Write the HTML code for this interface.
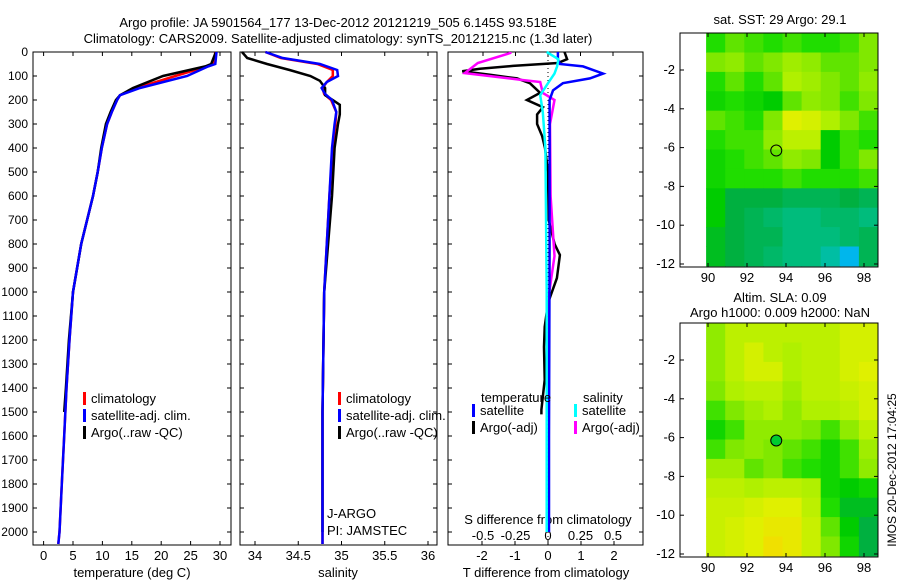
<!DOCTYPE html>
<html><head><meta charset="utf-8"><style>
html,body{margin:0;padding:0;background:#fff;}
svg{display:block;font-family:"Liberation Sans",sans-serif;font-size:13px;}
.sm{font-size:12px;}
</style></head><body>
<svg id="c" width="900" height="580" viewBox="0 0 900 580"></svg>
<script>
// ---------- DATA ----------
const tempDepth = [0,50,60,100,150,180,200,250,300,400,500,600,800,1000,1200,1400,1600,1800,2000,2050];
const tempClim  = [29.2,29.0,27.8,22.4,15.8,13.0,12.5,11.6,10.8,9.9,9.2,8.4,6.4,5.0,4.4,3.9,3.5,3.1,2.7,2.5];
const tempSat   = [29.4,29.2,28.0,24.4,16.4,13.0,12.5,11.6,10.8,9.9,9.2,8.4,6.4,5.0,4.4,3.9,3.5,3.1,2.7,2.5];
const argoTDepth= [0,50,60,100,150,180,200,250,300,400,500,600,800,1000,1200,1400,1500];
const argoT     = [29.3,28.5,27.5,20.3,15.2,13.0,12.3,11.4,10.6,9.8,9.2,8.4,6.4,5.0,4.3,3.8,3.5];

const salDepth  = [0,25,50,75,100,125,150,175,200,250,300,400,600,1000,1500,2000,2050];
const salClim   = [34.12,34.30,34.72,34.90,34.90,34.83,34.78,34.80,34.88,34.94,34.93,34.90,34.86,34.80,34.78,34.78,34.78];
const salSat    = [34.12,34.32,34.75,34.95,34.96,34.83,34.77,34.81,34.89,34.94,34.92,34.89,34.86,34.80,34.78,34.78,34.78];
const argoSDepth= [0,25,50,75,100,120,150,180,200,220,260,300,400,600,1000,1500,2000];
const argoS     = [33.85,33.91,34.14,34.40,34.64,34.75,34.81,34.81,34.90,34.98,34.98,34.96,34.92,34.89,34.80,34.78,34.78];

const dTSatDepth= [0,30,50,60,90,110,130,160,200,400,800,1200,1600,2000];
const dTSat     = [0.3,0.3,0.36,1.06,1.67,1.27,0.45,0.15,0.05,0.05,0.05,0.04,0.03,0.03];
const dTArgoDepth=[0,30,46,58,70,80,95,110,130,170,200,230,260,300,350,400,500,700,800,846,942,1046,1145,1229,1366,1491,1510];
const dTArgo    = [0.5,0.58,0.3,-1.06,-2.06,-2.6,-1.76,-0.94,-0.55,-0.24,-0.64,-0.15,-0.33,-0.33,-0.18,-0.09,0,0.02,0.2,0.36,0.27,0,-0.1,-0.12,-0.1,-0.2,-0.2];
const dSSatDepth= [0,30,60,90,130,180,250,400,1000,2000];
const dSSat     = [-0.01,0.08,0.07,0.05,0,-0.06,-0.04,-0.02,-0.01,-0.01];
const dSArgoDepth=[0,4,46,88,117,125,171,200,300,600,850,1000,1500,1510];
const dSArgo    = [-0.29,-0.29,-0.54,-0.64,-0.19,-0.06,-0.04,0.05,0.015,0.02,0.05,0.01,0.0,0.0];

const depthTicks=[0,100,200,300,400,500,600,700,800,900,1000,1100,1200,1300,1400,1500,1600,1700,1800,1900,2000];
const tTicks=[0,5,10,15,20,25,30];
const sTicks=[34,34.5,35,35.5,36];
const tdTicks=[-2,-1,0,1,2];
const sdTicks=[-0.5,-0.25,0,0.25,0.5];
const sdTickLabels=["-0.5","-0.25","0","0.25","0.5"];
const lonTicks=[90,92,94,96,98];
const latTicks=[-2,-4,-6,-8,-10,-12];

const sstGrid=[
[0.52,0.54,0.53,0.52,0.53,0.52,0.52,0.53,0.55],
[0.55,0.56,0.54,0.55,0.57,0.56,0.54,0.54,0.55],
[0.52,0.54,0.52,0.54,0.58,0.57,0.55,0.54,0.56],
[0.51,0.52,0.51,0.50,0.54,0.56,0.55,0.53,0.55],
[0.54,0.53,0.52,0.55,0.62,0.61,0.58,0.55,0.53],
[0.52,0.53,0.53,0.56,0.59,0.59,0.50,0.53,0.52],
[0.51,0.52,0.53,0.54,0.56,0.55,0.50,0.53,0.55],
[0.51,0.52,0.52,0.52,0.53,0.52,0.52,0.52,0.53],
[0.50,0.48,0.48,0.48,0.47,0.47,0.47,0.48,0.47],
[0.50,0.48,0.47,0.46,0.45,0.45,0.46,0.46,0.45],
[0.49,0.48,0.47,0.47,0.45,0.45,0.45,0.46,0.47],
[0.49,0.48,0.47,0.46,0.45,0.45,0.43,0.39,0.47]];
const slaGrid=[
[0.56,0.59,0.59,0.59,0.59,0.59,0.59,0.61,0.61],
[0.56,0.59,0.61,0.59,0.58,0.59,0.59,0.61,0.61],
[0.56,0.59,0.61,0.61,0.58,0.59,0.59,0.61,0.62],
[0.55,0.58,0.59,0.59,0.57,0.59,0.59,0.60,0.61],
[0.53,0.55,0.57,0.58,0.56,0.58,0.58,0.59,0.61],
[0.51,0.53,0.56,0.56,0.56,0.55,0.53,0.56,0.59],
[0.53,0.55,0.56,0.55,0.54,0.53,0.51,0.53,0.57],
[0.57,0.57,0.54,0.55,0.53,0.52,0.51,0.53,0.56],
[0.59,0.59,0.58,0.59,0.59,0.58,0.51,0.50,0.51],
[0.60,0.60,0.61,0.62,0.62,0.59,0.52,0.49,0.49],
[0.60,0.61,0.62,0.63,0.63,0.60,0.54,0.50,0.48],
[0.60,0.61,0.62,0.64,0.63,0.60,0.55,0.51,0.48]];
const floatLon=93.5, floatLat=-6.15;

// ---------- helpers ----------
const NS="http://www.w3.org/2000/svg";
const svg=document.getElementById('c');
function mk(tag,attrs,parent){const e=document.createElementNS(NS,tag);for(const k in attrs)e.setAttribute(k,attrs[k]);(parent||svg).appendChild(e);return e;}
function txt(x,y,s,anchor,parent){const t=mk('text',{x:x,y:y,'text-anchor':anchor||'start'},parent);t.textContent=s;return t;}

const yD=d=>52+d*0.24;
function profilePanel(name,x0,x1){
  const g=mk('g',{});
  
  
  mk('rect',{x:x0,y:52,width:x1-x0,height:493,fill:'none',stroke:'#000','stroke-width':1},g);
  depthTicks.forEach(d=>{mk('line',{x1:x0,x2:x0+4,y1:yD(d),y2:yD(d),stroke:'#000'},g);mk('line',{x1:x1-4,x2:x1,y1:yD(d),y2:yD(d),stroke:'#000'},g);});
  return g;
}
function line(g,name,depths,vals,xf,color,w){
  const p=mk('polyline',{points:depths.map((d,i)=>xf(vals[i]).toFixed(1)+','+yD(d).toFixed(1)).join(' '),fill:'none',stroke:color,'stroke-width':w||2.5},g);
  
  
}
function xticks(g,ticks,xf,labels,ly,top){
  ticks.forEach((t,i)=>{const x=xf(t);mk('line',{x1:x,x2:x,y1:545,y2:541,stroke:'#000'},g);if(top)mk('line',{x1:x,x2:x,y1:52,y2:56,stroke:'#000'},g);if(labels)txt(x,ly,labels[i],'middle',g);});
}
function legend(g,x,y,items){
  items.forEach((it,i)=>{mk('rect',{x:x,y:y+i*17-6,width:3,height:13,fill:it[0]},g);txt(x+8,y+i*17+5,it[1],'start',g);});
}

// titles
const t1=txt(338,27,'Argo profile: JA 5901564_177 13-Dec-2012 20121219_505 6.145S 93.518E','middle');

const t2=txt(338,43,'Climatology: CARS2009. Satellite-adjusted climatology: synTS_20121215.nc (1.3d later)','middle');


// Panel 1 temperature
const xT=v=>43.6+v*5.88;
const p1=profilePanel('temperature-panel',33,231);
depthTicks.forEach(d=>{const t=txt(28,yD(d)+4,String(d),'end',p1);t.setAttribute('class','sm');});
xticks(p1,tTicks,xT,tTicks.map(String),560,true);
txt(132,577,'temperature (deg C)','middle',p1);
line(p1,'temp-climatology',tempDepth,tempClim,xT,'#f00');
line(p1,'temp-argo',argoTDepth,argoT,xT,'#000');
line(p1,'temp-satellite',tempDepth,tempSat,xT,'#00f');
legend(p1,83,398,[['#f00','climatology'],['#00f','satellite-adj. clim.'],['#000','Argo(..raw -QC)']]);

// Panel 2 salinity
const xS=v=>255+(v-34)*86.5;
const p2=profilePanel('salinity-panel',240,437);
xticks(p2,sTicks,xS,['34','34.5','35','35.5','36'],560,true);
txt(338,577,'salinity','middle',p2);
line(p2,'sal-climatology',salDepth,salClim,xS,'#f00');
line(p2,'sal-argo',argoSDepth,argoS,xS,'#000');
line(p2,'sal-satellite',salDepth,salSat,xS,'#00f');
legend(p2,338,398,[['#f00','climatology'],['#00f','satellite-adj. clim.'],['#000','Argo(..raw -QC)']]);
txt(327,518,'J-ARGO','start',p2);
txt(327,535,'PI: JAMSTEC','start',p2);

// Panel 3 differences
const xdT=v=>548+v*33;
const xdS=v=>548+v*130;
const p3=profilePanel('difference-panel',448,643);
mk('line',{x1:548,x2:548,y1:52,y2:545,stroke:'#000','stroke-dasharray':'1,3'},p3);
xticks(p3,tdTicks,xdT,tdTicks.map(String),560,false);
sdTicks.forEach(t=>{const x=xdS(t);mk('line',{x1:x,x2:x,y1:52,y2:56,stroke:'#000'},p3);});
sdTicks.forEach((t,i)=>txt(xdS(t),540,sdTickLabels[i],'middle',p3));
txt(548,524,'S difference from climatology','middle',p3);
txt(546,577,'T difference from climatology','middle',p3);
line(p3,'dT-argo',dTArgoDepth,dTArgo,xdT,'#000');
line(p3,'dS-argo',dSArgoDepth,dSArgo,xdS,'#f0f');
line(p3,'dT-satellite',dTSatDepth,dTSat,xdT,'#00f');
line(p3,'dS-satellite',dSSatDepth,dSSat,xdS,'#0ff');
txt(481,402,'temperature','start',p3);
txt(583,402,'salinity','start',p3);
legend(p3,472,410,[['#00f','satellite'],['#000','Argo(-adj)']]);
legend(p3,574,410,[['#0ff','satellite'],['#f0f','Argo(-adj)']]);

// ---------- maps ----------
const cstops=[[0.38,[0,180,255]],[0.44,[0,192,144]],[0.48,[0,176,64]],[0.50,[0,204,0]],[0.52,[32,221,0]],[0.55,[128,232,0]],[0.58,[176,240,0]],[0.62,[224,240,0]],[0.66,[255,208,0]],[0.70,[255,176,0]]];
function cmap(v){
  if(v<=cstops[0][0])return 'rgb('+cstops[0][1]+')';
  for(let i=1;i<cstops.length;i++){if(v<=cstops[i][0]){const a=cstops[i-1],b=cstops[i],f=(v-a[0])/(b[0]-a[0]);return 'rgb('+a[1].map((c,k)=>Math.round(c+(b[1][k]-c)*f)).join(',')+')';}}
  return 'rgb('+cstops[cstops.length-1][1]+')';
}
function map(name,top,grid,filled){
  const g=mk('g',{});
  
  
  const xL=lon=>708+(lon-90)*19.5;
  const yL=lat=>top+37+(-2-lat)*19.4;
  const bot=top+234;
  grid.forEach((row,i)=>row.forEach((v,j)=>{
    const xa=xL(89.9+j*0.98), xb=Math.min(xL(89.9+(j+1)*0.98),878);
    const ya=Math.max(yL(-0.1-i),top), yb=Math.min(yL(-1.1-i),bot);
    const r=mk('rect',{x:xa.toFixed(1),y:ya.toFixed(1),width:(xb-xa+0.5).toFixed(1),height:(yb-ya+0.5).toFixed(1),fill:cmap(v)},g);
    
    
  }));
  mk('rect',{x:680,y:top,width:198,height:234,fill:'none',stroke:'#000'},g);
  lonTicks.forEach(l=>{const x=xL(l);mk('line',{x1:x,x2:x,y1:bot,y2:bot-4,stroke:'#000'},g);mk('line',{x1:x,x2:x,y1:top,y2:top+4,stroke:'#000'},g);txt(x,bot+15,String(l),'middle',g);});
  latTicks.forEach(l=>{const y=yL(l);mk('line',{x1:680,x2:684,y1:y,y2:y,stroke:'#000'},g);mk('line',{x1:874,x2:878,y1:y,y2:y,stroke:'#000'},g);txt(675,y+4,String(l),'end',g);});
  const m=mk('circle',{cx:xL(floatLon),cy:yL(floatLat),r:5.5,fill:filled?'#00cc30':'none',stroke:'#000','stroke-width':1},g);
  
  
}
map('sst-map',33,sstGrid,false);
map('sla-map',323,slaGrid,true);
const mt1=txt(780,24,'sat. SST: 29 Argo: 29.1','middle');

const mt2=txt(780,302,'Altim. SLA: 0.09','middle');

const mt3=txt(780,317,'Argo h1000: 0.009 h2000: NaN','middle');

const side=txt(0,0,'IMOS 20-Dec-2012 17:04:25','middle');
side.setAttribute('transform','translate(896,470) rotate(-90)');
side.setAttribute('class','sm');

</script>
</body></html>
